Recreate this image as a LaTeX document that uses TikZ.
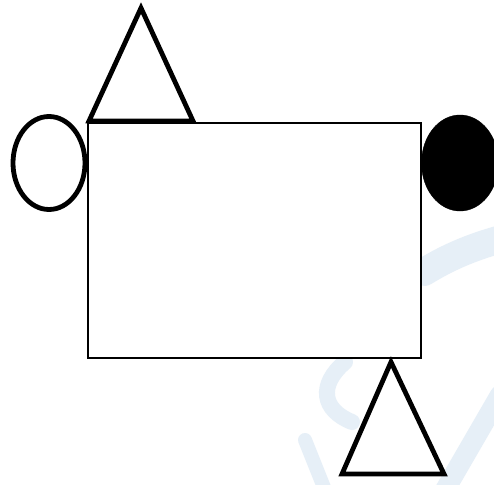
\documentclass[tikz,border=0pt]{standalone}
\usetikzlibrary{shapes.geometric}
\begin{document}
\begin{tikzpicture}[x=1pt,y=-1pt,
  thickline/.style={draw=black,line width=4.8pt,line join=miter},
  thinline/.style={draw=black,line width=2.4pt},
  wm/.style={draw={rgb,255:red,230;green,239;blue,247},line cap=round}]
\useasboundingbox (0,0) rectangle (494,484);
\fill[white] (0,0) rectangle (494,484);
% faint watermark
\draw[wm,line width=28pt] (424,272) .. controls (450,256) and (475,246) .. (505,238);
\draw[wm,line width=16pt] (345,362) .. controls (318,385) and (322,410) .. (352,422);
\draw[wm,line width=20pt] (500,395) -- (445,490);
\draw[wm,line width=14pt] (305,440) -- (325,490);
% shapes
\node[thinline,fill=white,minimum width=333pt,minimum height=235pt,inner sep=0pt,anchor=north west] (rect) at (87,122) {};
\coordinate (t1a) at (141,8);
\coordinate (t1b) at (89,121);
\coordinate (t1c) at (193,121);
\draw[thickline,fill=white] (t1a) -- (t1b) -- (t1c) -- cycle;
\coordinate (t2a) at (391,362);
\coordinate (t2b) at (342,474);
\coordinate (t2c) at (444,474);
\draw[thickline,fill=white] (t2a) -- (t2b) -- (t2c) -- cycle;
\node[thickline,fill=white,ellipse,minimum width=72pt,minimum height=93pt,inner sep=0pt] (e1) at (49,163) {};
\node[draw=black,fill=black,ellipse,minimum width=77pt,minimum height=96pt,inner sep=0pt] (e2) at (460,163) {};
\end{tikzpicture}
\end{document}
